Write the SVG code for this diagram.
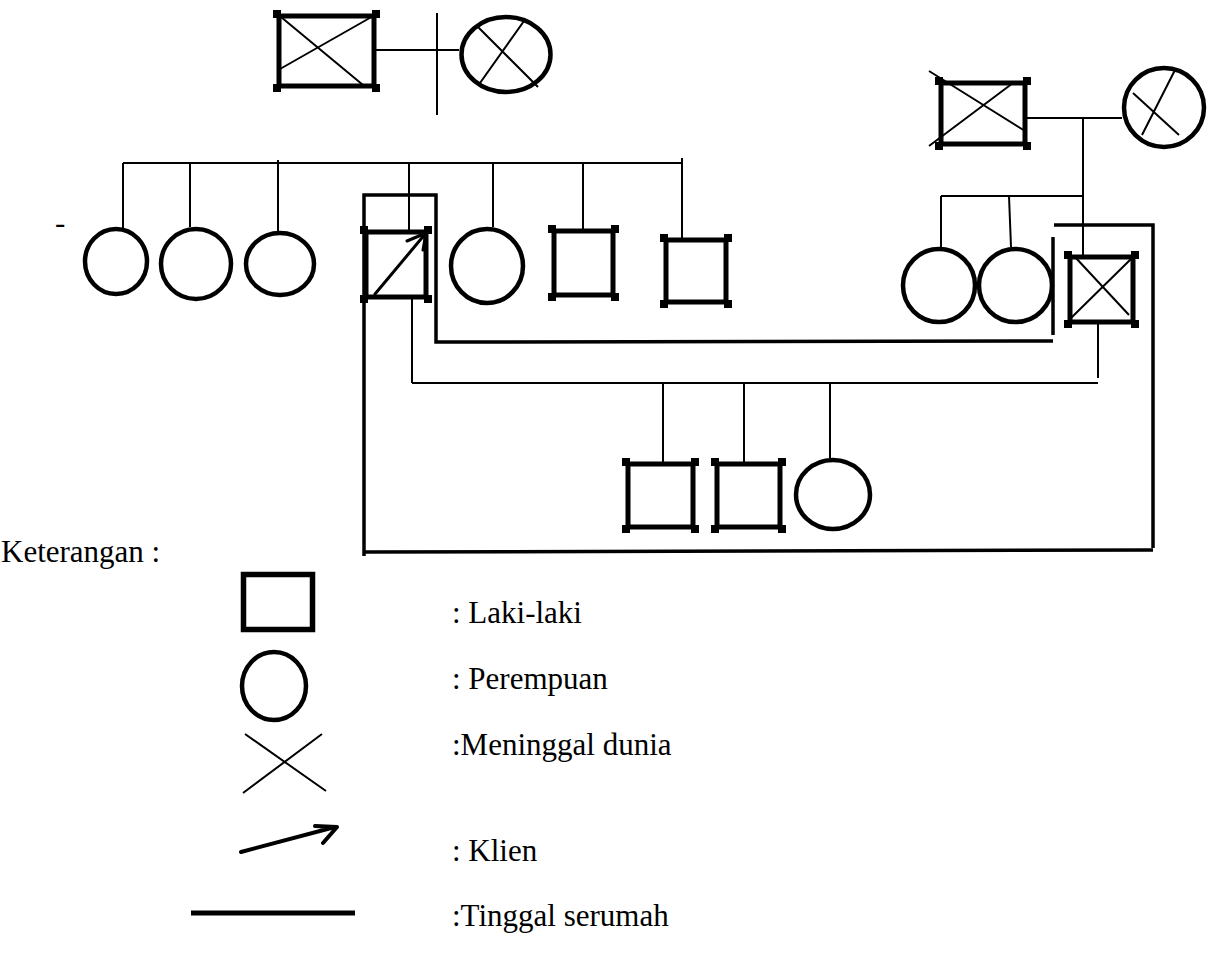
<svg xmlns="http://www.w3.org/2000/svg" width="1218" height="954" viewBox="0 0 1218 954">
<style>
.thin{stroke:#000;stroke-width:2;fill:none;stroke-linecap:butt}
.house{stroke:#000;stroke-width:3.5;fill:none;stroke-linejoin:miter}
.sq{stroke:#000;stroke-width:5;fill:none}
.circ{stroke:#000;stroke-width:4.5;fill:none}
.nub{fill:#000}
.arr{stroke:#000;stroke-width:3;fill:none;stroke-linecap:round;stroke-linejoin:round}
.txt{font-size:31px;fill:#000}
</style>
<rect width="1218" height="954" fill="#fff"/>

<g id="connectors">
  <path class="thin" d="M373,50 H459 M437,13 V115"/>
  <path class="thin" d="M123,163 H682 M123,163 V228 M190,163 V227 M278,160 V231 M409,163 V230 M493,163 V227 M583,163 V229 M682,158 V238"/>
  <path class="thin" d="M1027,118 H1122 M1083,118 V255 M941,196 H1083 M941,196 V247 M1009,196 L1011,247"/>
  <path class="thin" d="M412,299 V383 M412,383 H1098 M1098,324 V378 M663,383 V462 M744,383 V462 M830,383 V458"/>
</g>

<g id="household">
  <path class="house" d="M1053,341 L436,342 L436,195 L364,195 L364,556"/>
  <path class="house" d="M364,552 L1153,550"/>
  <path class="house" d="M1054,225 H1153 V548"/>
  <path class="house" d="M1053,237 V335"/>
</g>

<g id="grandfather-left">
  <rect class="sq" x="279" y="16" width="95" height="70"/>
  <path class="nub" d="M273,10h8v8h-8z M372,10h8v8h-8z M273,84h8v8h-8z M372,84h8v8h-8z"/>
  <path class="thin" d="M281,17 L363,85 M375,15 L280,69"/>
</g>
<g id="grandmother-left">
  <ellipse class="circ" cx="506" cy="54.5" rx="44.5" ry="37.5"/>
  <path class="thin" d="M478,27 L538,87 M524,21 L480,83"/>
</g>

<g id="grandfather-right">
  <rect class="sq" x="941" y="83" width="84" height="61"/>
  <path class="nub" d="M935,77h8v8h-8z M1023,77h8v8h-8z M935,142h8v8h-8z M1023,142h8v8h-8z"/>
  <path class="thin" d="M929,71 L1025,131 M1013,83 L929,146"/>
</g>
<g id="grandmother-right">
  <ellipse class="circ" cx="1164" cy="107.5" rx="40" ry="39.5"/>
  <path class="thin" d="M1175,70 L1142,135 M1133,93 L1179,135"/>
</g>

<text class="txt" x="55" y="233" font-family="Liberation Serif, Times New Roman, serif">-</text>

<g id="aunt-1"><ellipse class="circ" cx="116" cy="261.5" rx="31" ry="32.5"/></g>
<g id="aunt-2"><ellipse class="circ" cx="196" cy="264" rx="35" ry="35"/></g>
<g id="aunt-3"><ellipse class="circ" cx="280" cy="264" rx="34" ry="31"/></g>

<g id="klien">
  <rect class="sq" x="366" y="232" width="60" height="65"/>
  <path class="nub" d="M360,226h8v8h-8z M424,226h8v8h-8z M360,295h8v8h-8z M424,295h8v8h-8z"/>
  <path class="arr" d="M375,294 L426,233 M407,241 L426,233 L423,250"/>
</g>

<g id="sister"><ellipse class="circ" cx="487" cy="266" rx="36" ry="37"/></g>
<g id="brother-1">
  <rect class="sq" x="554" y="231" width="59" height="64"/>
  <path class="nub" d="M548,225h8v8h-8z M611,225h8v8h-8z M548,293h8v8h-8z M611,293h8v8h-8z"/>
</g>
<g id="brother-2">
  <rect class="sq" x="666" y="240" width="60" height="62"/>
  <path class="nub" d="M660,234h8v8h-8z M724,234h8v8h-8z M660,300h8v8h-8z M724,300h8v8h-8z"/>
</g>

<g id="spouse-sister-1"><ellipse class="circ" cx="939" cy="285.5" rx="36" ry="36.5"/></g>
<g id="spouse-sister-2"><ellipse class="circ" cx="1015.5" cy="285.5" rx="36.5" ry="36.5"/></g>
<g id="spouse">
  <rect class="sq" x="1070" y="257" width="63" height="65"/>
  <path class="nub" d="M1064,251h8v8h-8z M1131,251h8v8h-8z M1064,320h8v8h-8z M1131,320h8v8h-8z"/>
  <path class="thin" d="M1075,257 L1129,315 M1132,258 L1071,318"/>
</g>

<g id="child-1">
  <rect class="sq" x="628" y="464" width="65" height="63"/>
  <path class="nub" d="M622,458h8v8h-8z M691,458h8v8h-8z M622,525h8v8h-8z M691,525h8v8h-8z"/>
</g>
<g id="child-2">
  <rect class="sq" x="717" y="464" width="63" height="63"/>
  <path class="nub" d="M711,458h8v8h-8z M778,458h8v8h-8z M711,525h8v8h-8z M778,525h8v8h-8z"/>
</g>
<g id="child-3"><ellipse class="circ" cx="833" cy="494.5" rx="37" ry="34.5"/></g>

<g id="legend" font-family="Liberation Serif, Times New Roman, serif">
  <text class="txt" x="1" y="562">Keterangan :</text>
  <rect x="243.5" y="574.5" width="69" height="55" fill="none" stroke="#000" stroke-width="5.5"/>
  <text class="txt" x="452" y="623">: Laki-laki</text>
  <ellipse class="circ" cx="274" cy="686" rx="32" ry="34"/>
  <text class="txt" x="452" y="689">: Perempuan</text>
  <path class="thin" d="M245,734 L326,791 M322,734 L243,793"/>
  <text class="txt" x="452" y="755">:Meninggal dunia</text>
  <path d="M241,852 L335,827 M315,826 L337,827 L323,843" fill="none" stroke="#000" stroke-width="4" stroke-linecap="round" stroke-linejoin="round"/>
  <text class="txt" x="452" y="861">: Klien</text>
  <path d="M191,913 H355" stroke="#000" stroke-width="5"/>
  <text class="txt" x="452" y="926">:Tinggal serumah</text>
</g>
</svg>
